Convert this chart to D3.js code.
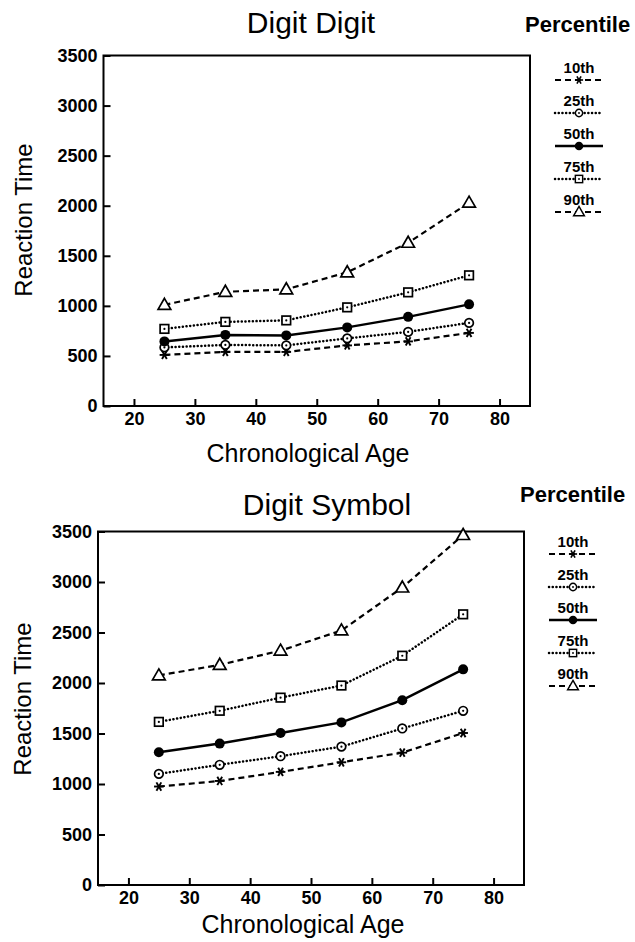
<!DOCTYPE html>
<html lang="en">
<head>
<meta charset="UTF-8" />
<title>Digit Digit / Digit Symbol reaction time by age</title>
<script src="https://cdn.jsdelivr.net/npm/d3@7"></script>
<style>
body{margin:0;background:#fff}
svg{display:block;font-family:"Liberation Sans",Arial,Helvetica,sans-serif}
.axis path,.axis line{stroke:#000;stroke-width:2}
.axis text{font-family:"Liberation Sans",Arial,Helvetica,sans-serif;font-size:18px;font-weight:bold;fill:#000}
</style>
</head>
<body>
<svg id="chart" width="635" height="942"></svg>
<script>
/* ===== data ===== */
const ages=[25,35,45,55,65,75];
const percentiles=['10th','25th','50th','75th','90th'];
const xTicks=[20,30,40,50,60,70,80];
const yTicks=[0,500,1000,1500,2000,2500,3000,3500];

/* Digit Digit */
const ddP10=[510,540,540,605,645,730];
const ddP25=[585,610,605,675,740,830];
const ddP50=[645,710,705,785,890,1015];
const ddP75=[770,840,855,985,1135,1305];
const ddP90=[1010,1140,1165,1335,1630,2030];

/* Digit Symbol */
const dsP10=[975,1030,1120,1215,1310,1505];
const dsP25=[1100,1190,1275,1370,1550,1725];
const dsP50=[1315,1400,1505,1610,1830,2135];
const dsP75=[1615,1725,1855,1975,2270,2680];
const dsP90=[2075,2180,2320,2520,2945,3465];

/* line / marker style per percentile */
const styles={
  '10th':{dash:'6,4',cap:'butt',w:2.2,mark:'star'},
  '25th':{dash:'0.1,3.6',cap:'round',w:2.5,mark:'dotcircle'},
  '50th':{dash:null,cap:'butt',w:2.5,mark:'disc'},
  '75th':{dash:'0.1,3.6',cap:'round',w:2.5,mark:'dotsquare'},
  '90th':{dash:'6,4',cap:'butt',w:2.2,mark:'triangle'}
};

const panels=[
  {title:'Digit Digit',series:[ddP10,ddP25,ddP50,ddP75,ddP90],
   l:103.5,r:530,t:55.5,b:406,titleX:311,titleY:33,pctX:525,pctY:32,
   legX:579,legY:73,yLabX:32,yLabY:220,xLabX:308,xLabY:462},
  {title:'Digit Symbol',series:[dsP10,dsP25,dsP50,dsP75,dsP90],
   l:98,r:524,t:531.5,b:885,titleX:327,titleY:515,pctX:520,pctY:502,
   legX:573,legY:547,yLabX:31,yLabY:699,xLabX:303,xLabY:933}
];

const svg=d3.select('#chart');

function marker(g,kind,x,y,sc=1){
  const m=g.append('g').attr('transform',`translate(${x},${y}) scale(${sc})`);
  if(kind==='star'){
    [0,60,120].forEach(a=>{
      const rad=a*Math.PI/180,dx=Math.cos(rad)*4.8,dy=Math.sin(rad)*4.8;
      m.append('line').attr('x1',-dx).attr('y1',-dy).attr('x2',dx).attr('y2',dy)
        .attr('stroke','#000').attr('stroke-width',1.9);
    });
  }else if(kind==='dotcircle'){
    m.append('circle').attr('r',4.3).attr('fill','#fff').attr('stroke','#000').attr('stroke-width',1.7);
    m.append('circle').attr('r',1.1).attr('fill','#000');
  }else if(kind==='disc'){
    m.append('circle').attr('r',5).attr('fill','#000');
  }else if(kind==='dotsquare'){
    m.append('rect').attr('x',-4.3).attr('y',-4.3).attr('width',8.6).attr('height',8.6)
      .attr('fill','#fff').attr('stroke','#000').attr('stroke-width',1.7);
    m.append('circle').attr('r',1.1).attr('fill','#000');
  }else{
    m.append('path').attr('d',d3.symbol(d3.symbolTriangle,70)())
      .attr('transform','translate(0,0.8)')
      .attr('fill','#fff').attr('stroke','#000').attr('stroke-width',1.7);
  }
}

panels.forEach(p=>{
  const x=d3.scaleLinear().domain([15,85]).range([p.l,p.r]);
  const y=d3.scaleLinear().domain([0,3500]).range([p.b,p.t]);
  const g=svg.append('g');

  /* frame */
  g.append('rect').attr('x',p.l).attr('y',p.t).attr('width',p.r-p.l).attr('height',p.b-p.t)
    .attr('fill','none').attr('stroke','#000').attr('stroke-width',2);

  g.append('g').attr('class','axis').attr('transform',`translate(${p.l},0)`)
    .call(d3.axisLeft(y).tickValues(yTicks).tickFormat(d3.format('d'))
      .tickSizeInner(-7).tickSizeOuter(0).tickPadding(6))
    .call(a=>a.select('.domain').remove());
  g.append('g').attr('class','axis').attr('transform',`translate(0,${p.b})`)
    .call(d3.axisBottom(x).tickValues(xTicks).tickFormat(d3.format('d'))
      .tickSizeInner(-7).tickSizeOuter(0).tickPadding(6))
    .call(a=>a.select('.domain').remove());

  /* titles */
  g.append('text').attr('x',p.titleX).attr('y',p.titleY).attr('text-anchor','middle')
    .attr('font-size',30).text(p.title);
  g.append('text').attr('x',p.pctX).attr('y',p.pctY).attr('font-size',22).attr('font-weight','bold')
    .text('Percentile');
  g.append('text').attr('transform',`translate(${p.yLabX},${p.yLabY}) rotate(-90)`)
    .attr('text-anchor','middle').attr('font-size',24).text('Reaction Time');
  g.append('text').attr('x',p.xLabX).attr('y',p.xLabY).attr('text-anchor','middle')
    .attr('font-size',25).text('Chronological Age');

  /* series */
  const line=d3.line().x((d,i)=>x(ages[i])).y(d=>y(d));
  p.series.forEach((vals,k)=>{
    const s=styles[percentiles[k]];
    g.append('path').datum(vals).attr('d',line).attr('fill','none').attr('stroke','#000')
      .attr('stroke-width',s.w).attr('stroke-dasharray',s.dash).attr('stroke-linecap',s.cap);
    vals.forEach((v,i)=>marker(g,s.mark,x(ages[i]),y(v)));
  });

  /* legend */
  percentiles.forEach((name,k)=>{
    const s=styles[name],ty=p.legY+k*33,ly=ty+7;
    g.append('text').attr('x',p.legX).attr('y',ty).attr('text-anchor','middle')
      .attr('font-size',15).attr('font-weight','bold').text(name);
    g.append('line').attr('x1',p.legX-24).attr('x2',p.legX+24).attr('y1',ly).attr('y2',ly)
      .attr('stroke','#000').attr('stroke-width',s.w).attr('stroke-dasharray',s.dash).attr('stroke-linecap',s.cap);
    marker(g,s.mark,p.legX,ly,0.85);
  });
});
</script>
</body>
</html>
